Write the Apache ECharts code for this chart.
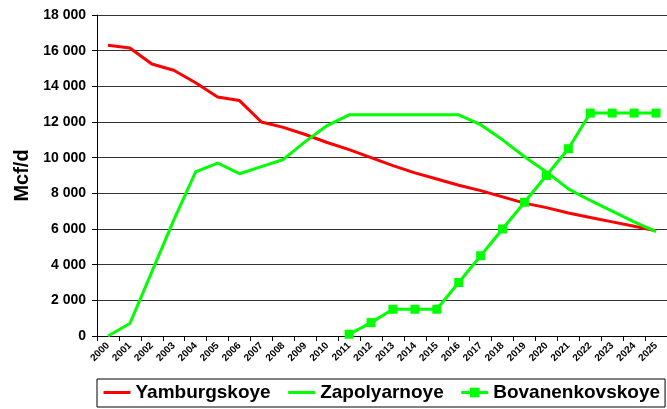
<!DOCTYPE html>
<html>
<head>
<meta charset="utf-8">
<script src="https://cdn.jsdelivr.net/npm/echarts@6/dist/echarts.min.js"></script>
<style>
  html, body { margin: 0; padding: 0; background: #fff; }
  #chart { width: 667px; height: 409px; }
</style>
</head>
<body>
<div id="chart"></div>
<script>
var years = ['2000','2001','2002','2003','2004','2005','2006','2007','2008','2009','2010','2011','2012',
             '2013','2014','2015','2016','2017','2018','2019','2020','2021','2022','2023','2024','2025'];

var yamburgskoye = [16300, 16150, 15250, 14900, 14200, 13400, 13200, 12000, 11700, 11300, 10850, 10450, 10000,
                    9550, 9150, 8800, 8450, 8150, 7800, 7450, 7200, 6900, 6650, 6400, 6150, 5900];

var zapolyarnoye = [0, 700, 3600, 6500, 9200, 9700, 9100, 9500, 9900, 10900, 11800, 12400, 12400,
                    12400, 12400, 12400, 12400, 11850, 11000, 10050, 9200, 8250, 7600, 7000, 6400, 5850];

var bovanenkovskoye = [null, null, null, null, null, null, null, null, null, null, null, 100, 750,
                       1500, 1500, 1500, 3000, 4500, 6000, 7500, 9000, 10500, 12500, 12500, 12500, 12500];

var font = 'Arial, "Liberation Sans", sans-serif';

var chart = echarts.init(document.getElementById('chart'));
chart.setOption({
    animation: false,
    grid: { left: 97, top: 15, width: 573, height: 321 },
    legend: {
        left: 97,
        top: 379,
        width: 640,
        padding: [4, 5, 5, 5],
        itemGap: 16,
        itemWidth: 27,
        itemHeight: 12,
        borderColor: '#000',
        borderWidth: 1,
        textStyle: { fontFamily: font, fontWeight: 'bold', fontSize: 19, color: '#000' },
        data: [
            { name: 'Yamburgskoye', itemStyle: { opacity: 0 }, lineStyle: { width: 3 } },
            { name: 'Zapolyarnoye', itemStyle: { opacity: 0 }, lineStyle: { width: 3 } },
            { name: 'Bovanenkovskoye', lineStyle: { width: 3 } }
        ]
    },
    xAxis: {
        type: 'category',
        data: years,
        boundaryGap: true,
        axisLine: { lineStyle: { color: '#000', width: 1 } },
        axisTick: { show: true, length: 5, lineStyle: { color: '#000' } },
        axisLabel: {
            interval: 0, rotate: 45, margin: 8,
            fontFamily: font, fontWeight: 'bold', fontSize: 10, color: '#000'
        },
        splitLine: { show: false }
    },
    yAxis: {
        type: 'value',
        min: 0, max: 18000, interval: 2000,
        name: 'Mcf/d',
        nameLocation: 'middle',
        nameGap: 62,
        nameRotate: 90,
        nameTextStyle: { fontFamily: font, fontWeight: 'bold', fontSize: 20, color: '#000' },
        axisLine: { show: true, lineStyle: { color: '#000', width: 1 } },
        axisTick: { show: true, length: 5, lineStyle: { color: '#000' } },
        axisLabel: {
            margin: 11,
            fontFamily: font, fontWeight: 'bold', fontSize: 14, color: '#000',
            formatter: function (v) { return v >= 1000 ? String(v).replace(/(\d)(?=(\d{3})+$)/, '$1 ') : String(v); }
        },
        splitLine: { show: true, lineStyle: { color: '#333', width: 1 } }
    },
    series: [
        {
            name: 'Yamburgskoye', type: 'line', data: yamburgskoye,
            symbol: 'none', color: '#ff0000',
            lineStyle: { width: 3, color: '#ff0000' }
        },
        {
            name: 'Zapolyarnoye', type: 'line', data: zapolyarnoye,
            symbol: 'none', color: '#00ff00',
            lineStyle: { width: 3, color: '#00ff00' }
        },
        {
            name: 'Bovanenkovskoye', type: 'line', data: bovanenkovskoye,
            symbol: 'rect', symbolSize: 9, showSymbol: true, color: '#00ff00',
            itemStyle: { color: '#00ff00' },
            lineStyle: { width: 3, color: '#00ff00' }
        }
    ]
});
</script>
</body>
</html>
